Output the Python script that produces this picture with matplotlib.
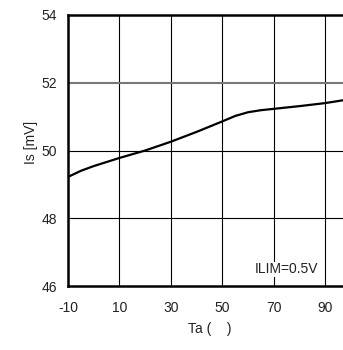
import matplotlib
matplotlib.use("Agg")
import matplotlib.pyplot as plt
import numpy as np

plt.rcParams['font.family'] = ['Liberation Sans', 'DejaVu Sans']
plt.rcParams['axes.unicode_minus'] = False

ta = [-10, -5, 0, 10, 20, 30, 40, 50, 55, 60, 65, 70, 80, 90, 100]
isv = [49.22, 49.40, 49.54, 49.78, 50.00, 50.26, 50.55, 50.86, 51.02, 51.13, 51.19, 51.23, 51.31, 51.40, 51.52]
xticks = [-10, 10, 30, 50, 70, 90]
yticks = [46, 48, 50, 52, 54]

fig = plt.figure(figsize=(3.43, 3.5), dpi=100)
ax = fig.add_axes([68/343, 64/350, (351-68)/343, (286-15)/350])
ax.set_xlim(-10, 100)
ax.set_ylim(46, 54)
ax.set_xticks(xticks)
ax.set_yticks(yticks)
for x in xticks[1:]:
    ax.axvline(x, color='black', lw=0.8, zorder=1)
for y in yticks[1:-1]:
    c = '#777777' if y == 52 else 'black'
    w = 1.5 if y == 52 else 0.8
    ax.axhline(y, color=c, lw=w, zorder=1)
ax.plot(ta, isv, color='black', lw=1.6, zorder=3)
for s in ['left', 'bottom', 'top']:
    ax.spines[s].set_linewidth(1.8)
ax.spines['right'].set_visible(False)
ax.tick_params(length=0, labelsize=10, labelcolor='#222222')
ax.tick_params(axis='x', pad=11)
ax.tick_params(axis='y', pad=8)
ax.set_xlabel('Ta (    )', fontsize=10, color='#222222', labelpad=5)
ax.set_ylabel('Is [mV]', fontsize=10, color='#222222')
ax.yaxis.set_label_coords(-0.106, 0.528)
ax.text(62.7, 46.38, 'ILIM=0.5V', fontsize=10, color='#222222', ha='left', va='baseline',
        bbox=dict(facecolor='white', edgecolor='none', pad=0.3), zorder=4)
fig.savefig('out.png', dpi=100)
